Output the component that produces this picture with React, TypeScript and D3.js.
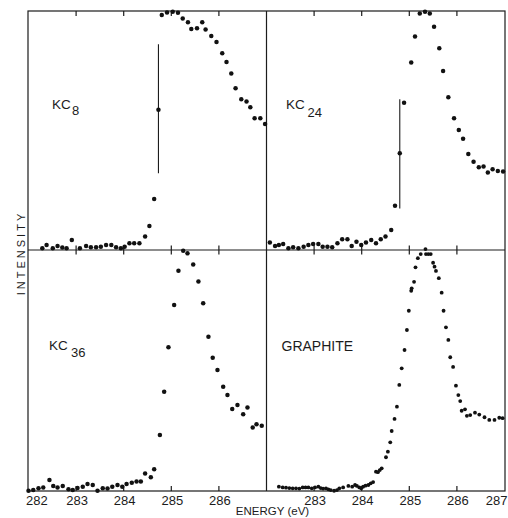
import React, { useEffect, useRef } from 'react';
import * as d3 from 'd3';

// KC8 (top left)
const kc8Energy = [282.29, 282.38, 282.51, 282.61, 282.71, 282.80, 282.91, 283.08, 283.21, 283.31, 283.42, 283.52, 283.63, 283.74, 283.84, 283.94, 284.02, 284.12, 284.22, 284.33, 284.45, 284.54, 284.64, 284.73, 284.80, 284.91, 285.03, 285.14, 285.24, 285.35, 285.42, 285.54, 285.65, 285.72, 285.84, 285.95, 286.07, 286.16, 286.26, 286.35, 286.47, 286.58, 286.66, 286.75, 286.87, 286.97];
const kc8Intensity = [0.7, 2.1, 0.7, 1.7, 1.0, 0.7, 4.2, 0.7, 1.7, 1.1, 1.1, 1.4, 2.1, 2.1, 1.1, 0.7, 1.4, 2.8, 2.8, 2.8, 5.6, 10.0, 21.3, 58.7, 98.3, 99.4, 99.7, 99.3, 96.9, 95.3, 92.5, 92.8, 95.3, 92.3, 89.5, 87.0, 82.3, 78.7, 73.9, 67.7, 63.1, 62.1, 59.7, 55.1, 55.1, 52.7];
const kc8ErrorBar = [284.73, 32.1, 86.1];

// KC24 (top right)
const kc24Energy = [282.07, 282.18, 282.26, 282.35, 282.46, 282.56, 282.67, 282.78, 282.88, 282.98, 283.09, 283.18, 283.28, 283.38, 283.49, 283.59, 283.70, 283.79, 283.89, 283.99, 284.09, 284.20, 284.30, 284.40, 284.50, 284.62, 284.70, 284.80, 284.89, 285.04, 285.12, 285.22, 285.33, 285.43, 285.52, 285.63, 285.71, 285.82, 285.94, 286.04, 286.13, 286.24, 286.35, 286.46, 286.56, 286.65, 286.75, 286.86, 286.97];
const kc24Intensity = [3.1, 1.7, 2.1, 2.5, 0.7, 1.1, 0.7, 1.4, 2.1, 2.5, 2.5, 1.4, 1.4, 1.1, 2.8, 4.5, 4.5, 1.7, 3.5, 2.1, 3.1, 4.2, 2.8, 4.5, 5.6, 8.4, 18.5, 40.5, 61.6, 78.5, 89.3, 99.0, 99.7, 99.0, 93.4, 84.4, 74.9, 63.9, 55.1, 50.2, 46.6, 40.2, 36.9, 34.6, 34.9, 32.4, 33.8, 33.1, 32.8];
const kc24ErrorBar = [284.80, 17.4, 63.1];

// KC36 (bottom left)
const kc36Energy = [282.00, 282.10, 282.21, 282.31, 282.44, 282.52, 282.61, 282.72, 282.84, 282.93, 283.03, 283.14, 283.24, 283.35, 283.45, 283.56, 283.66, 283.76, 283.87, 283.97, 284.06, 284.17, 284.27, 284.36, 284.45, 284.57, 284.64, 284.76, 284.85, 284.94, 285.06, 285.15, 285.25, 285.34, 285.46, 285.57, 285.67, 285.78, 285.87, 285.97, 286.09, 286.18, 286.28, 286.39, 286.51, 286.60, 286.71, 286.79, 286.90];
const kc36Intensity = [0.1, 0.4, 1.1, 1.5, 4.6, 2.1, 1.5, 2.1, 0.7, 0.4, 1.2, 1.8, 2.9, 2.5, 0.1, 1.1, 1.0, 1.8, 2.5, 1.8, 2.9, 3.4, 3.9, 3.9, 7.3, 5.7, 9.0, 23.2, 41.2, 59.6, 77.2, 91.4, 99.7, 98.6, 94.0, 86.9, 77.9, 64.0, 55.3, 50.2, 43.3, 39.8, 34.0, 35.7, 31.8, 34.6, 26.3, 27.7, 27.1];

// graphite (bottom right)
const graphiteEnergy = [282.26, 282.34, 282.41, 282.48, 282.55, 282.62, 282.69, 282.76, 282.82, 282.88, 282.95, 283.02, 283.09, 283.14, 283.19, 283.25, 283.30, 283.35, 283.42, 283.48, 283.53, 283.61, 283.72, 283.80, 283.86, 283.90, 283.95, 283.99, 284.03, 284.08, 284.14, 284.19, 284.24, 284.30, 284.34, 284.38, 284.42, 284.51, 284.55, 284.60, 284.63, 284.69, 284.74, 284.79, 284.84, 284.90, 284.95, 284.99, 285.04, 285.05, 285.10, 285.13, 285.18, 285.24, 285.34, 285.35, 285.40, 285.45, 285.50, 285.53, 285.56, 285.62, 285.68, 285.72, 285.77, 285.82, 285.86, 285.92, 285.98, 286.03, 286.07, 286.10, 286.17, 286.21, 286.28, 286.38, 286.47, 286.58, 286.68, 286.79, 286.89, 286.96];
const graphiteIntensity = [1.8, 1.5, 1.4, 1.2, 1.1, 1.1, 1.0, 1.5, 1.5, 1.5, 1.1, 1.5, 1.8, 1.2, 1.0, 1.1, 0.7, 0.4, 0.1, 0.4, 1.1, 1.5, 2.1, 1.8, 2.5, 2.1, 1.5, 1.1, 1.8, 2.2, 2.5, 3.2, 3.7, 8.0, 7.8, 8.7, 9.4, 14.0, 16.3, 20.2, 24.9, 29.9, 35.0, 44.0, 50.9, 58.5, 66.8, 74.8, 83.1, 84.1, 86.8, 92.8, 96.6, 98.3, 100.4, 98.3, 98.3, 98.3, 94.7, 93.1, 91.3, 88.3, 82.3, 74.8, 67.9, 62.7, 55.5, 51.5, 43.7, 39.8, 37.3, 33.3, 33.9, 31.2, 31.5, 32.5, 31.7, 30.6, 29.5, 29.5, 30.4, 30.2];

// axis ticks
const innerTicks = [283, 284, 285, 286];
const leftTickLabels = [282, 283, 284, 285, 286];
const rightTickLabels = [283, 284, 285, 286, 287];

const canvasWidth = 508;
const canvasHeight = 518;
const frame = { left: 28, mid: 266.5, right: 505, top: 11, midY: 250, bottom: 491 };
const ink = '#1c1c1c';
const font = '"Liberation Sans", Arial, sans-serif';

export default function App() {
    const ref = useRef<SVGSVGElement>(null);

    useEffect(() => {
        const svg = d3.select(ref.current);
        svg.selectAll('*').remove();

        //scales for the two columns and two rows
        const xLeft = d3.scaleLinear().domain([282, 287]).range([28.5, frame.mid]);
        const xRight = d3.scaleLinear().domain([282, 287]).range([frame.mid, 504.5]);
        const yTop = d3.scaleLinear().domain([0, 100]).range([frame.midY, frame.top]);
        const yBottom = d3.scaleLinear().domain([0, 100]).range([frame.bottom, frame.midY]);

        const panels = [
            { x: xLeft, y: yTop, energy: kc8Energy, intensity: kc8Intensity, err: kc8ErrorBar, r: 2.25 },
            { x: xRight, y: yTop, energy: kc24Energy, intensity: kc24Intensity, err: kc24ErrorBar, r: 2.25 },
            { x: xLeft, y: yBottom, energy: kc36Energy, intensity: kc36Intensity, err: null, r: 2.25 },
            { x: xRight, y: yBottom, energy: graphiteEnergy, intensity: graphiteIntensity, err: null, r: 1.9 },
        ];

        //frame and dividers
        const g = svg.append('g').attr('stroke', ink).attr('stroke-width', 1.2).attr('fill', 'none');
        g.append('rect')
            .attr('x', frame.left).attr('y', frame.top)
            .attr('width', frame.right - frame.left).attr('height', frame.bottom - frame.top);
        g.append('line').attr('x1', frame.mid).attr('x2', frame.mid).attr('y1', frame.top).attr('y2', frame.bottom);
        g.append('line').attr('x1', frame.left).attr('x2', frame.right).attr('y1', frame.midY).attr('y2', frame.midY);

        //ticks: down from top, crossing the middle, up from bottom
        [xLeft, xRight].forEach(x => {
            innerTicks.forEach(t => {
                const px = x(t);
                g.append('line').attr('x1', px).attr('x2', px).attr('y1', frame.top).attr('y2', frame.top + 5);
                g.append('line').attr('x1', px).attr('x2', px).attr('y1', frame.midY - 4.5).attr('y2', frame.midY + 4.5);
                g.append('line').attr('x1', px).attr('x2', px).attr('y1', frame.bottom - 5).attr('y2', frame.bottom);
            });
        });

        //tick labels
        const labels = svg.append('g')
            .attr('font-family', font).attr('font-size', 13).attr('fill', ink);
        leftTickLabels.forEach(t => {
            labels.append('text')
                .attr('x', t === 282 ? xLeft(t) - 2.5 : xLeft(t) + 1)
                .attr('y', 505)
                .attr('text-anchor', t === 282 ? 'start' : 'middle')
                .text(t);
        });
        rightTickLabels.forEach(t => {
            labels.append('text')
                .attr('x', t === 287 ? 507.5 : xRight(t) + 1).attr('y', 505)
                .attr('text-anchor', t === 287 ? 'end' : 'middle')
                .text(t);
        });

        //axis titles
        svg.append('text')
            .attr('x', 272.5).attr('y', 515)
            .attr('text-anchor', 'middle')
            .attr('font-family', font).attr('font-size', 11.5).attr('fill', ink)
            .text('ENERGY (eV)');
        svg.append('text')
            .attr('transform', 'translate(25,253) rotate(-90)')
            .attr('text-anchor', 'middle')
            .attr('font-family', font).attr('font-size', 11).attr('letter-spacing', 3).attr('fill', ink)
            .text('INTENSITY');

        //error bars and points
        panels.forEach(p => {
            if (p.err) {
                svg.append('line')
                    .attr('x1', p.x(p.err[0])).attr('x2', p.x(p.err[0]))
                    .attr('y1', p.y(p.err[1])).attr('y2', p.y(p.err[2]))
                    .attr('stroke', ink).attr('stroke-width', 1.1);
            }
            svg.append('g').selectAll('circle')
                .data(p.energy.map((e, i) => [e, p.intensity[i]]))
                .enter()
                .append('circle')
                .attr('cx', d => p.x(d[0]))
                .attr('cy', d => p.y(d[1]))
                .attr('r', p.r)
                .attr('fill', '#111');
        });

        //panel names
        const names = svg.append('g').attr('font-family', font).attr('fill', ink);
        const addName = (x: number, y: number, size: number, txt: string) =>
            names.append('text').attr('x', x).attr('y', y).attr('font-size', size).text(txt);
        addName(52, 109, 13.5, 'KC');
        addName(72, 114.5, 13, '8');
        addName(286, 108.5, 13.5, 'KC');
        addName(307.5, 116.5, 13, '24');
        addName(49, 349.5, 13.5, 'KC');
        addName(71, 357, 13, '36');
        addName(281.5, 350.7, 14, 'GRAPHITE');
    }, []);

    return (
        <div style={{ position: 'absolute', left: 0, top: 0, background: '#fff' }}>
            <svg ref={ref} width={canvasWidth} height={canvasHeight} style={{ display: 'block' }} />
        </div>
    );
}
